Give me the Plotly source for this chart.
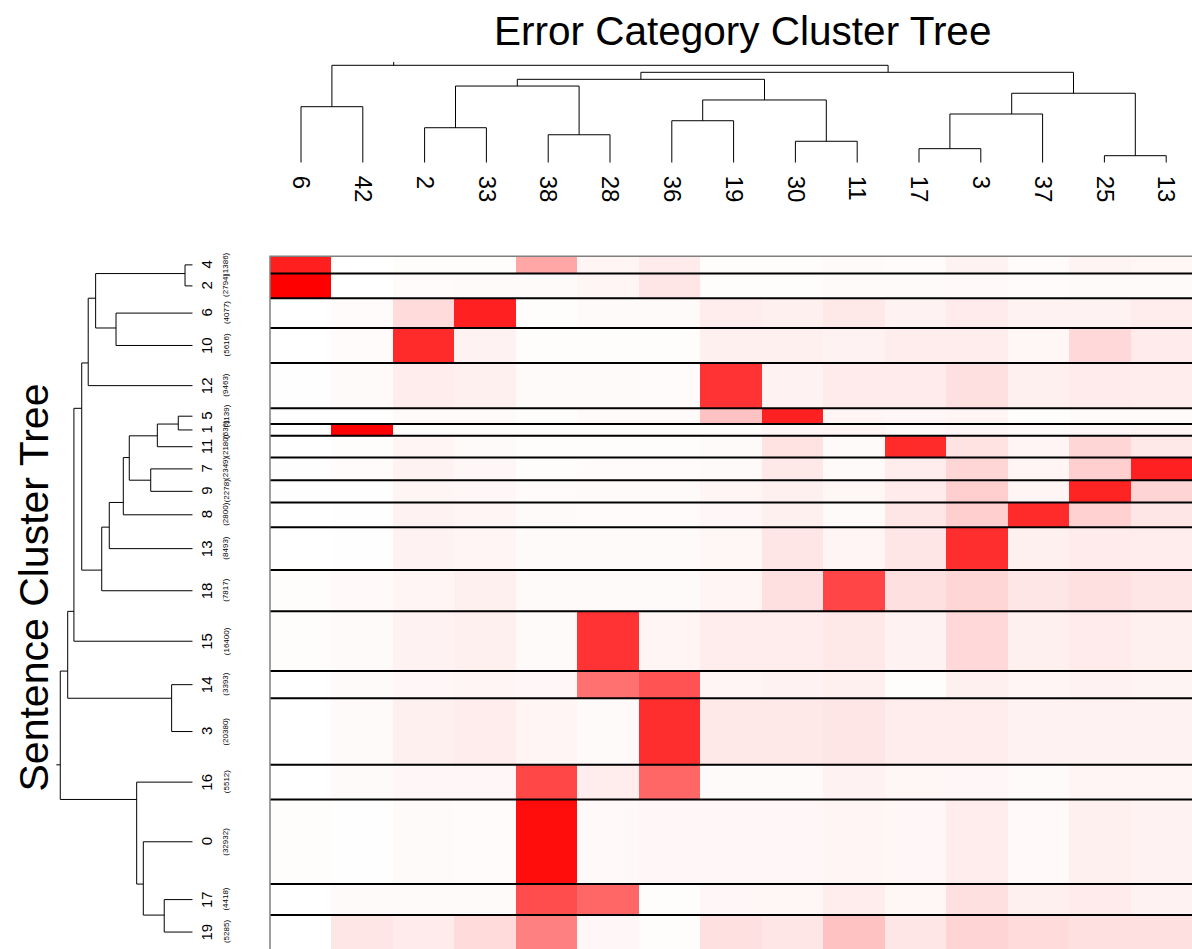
import numpy as np
import plotly.graph_objects as go

W, H = 1192, 949

# ---------------- data ----------------
# Error-category (column) cluster tree: (left, right, height); ints refer to earlier merges
col_merges = [
    ("6", "42", 0.575),   # 0
    ("2", "33", 0.359),   # 1
    ("38", "28", 0.287),  # 2
    (1, 2, 0.787),        # 3
    ("36", "19", 0.431),  # 4
    ("30", "11", 0.220),  # 5
    (4, 5, 0.644),        # 6
    (3, 6, 0.856),        # 7
    ("17", "3", 0.144),   # 8
    (8, "37", 0.500),     # 9
    ("25", "13", 0.072),  # 10
    (9, 10, 0.713),       # 11
    (7, 11, 0.928),       # 12
    (0, 12, 1.000),       # 13
]

# Sentence (row) cluster tree
row_merges = [
    ("4", "2", 0.058),    # 0
    ("6", "10", 0.579),   # 1
    (0, 1, 0.733),        # 2
    (2, "12", 0.789),     # 3
    ("5", "1", 0.109),    # 4
    (4, "11", 0.267),     # 5
    ("7", "9", 0.317),    # 6
    (5, 6, 0.479),        # 7
    (7, "8", 0.524),      # 8
    (8, "13", 0.630),     # 9
    (9, "18", 0.687),     # 10
    (3, 10, 0.838),       # 11
    (11, "15", 0.897),    # 12
    ("14", "3", 0.159),   # 13
    (12, 13, 0.944),      # 14
    ("17", "19", 0.215),  # 15
    ("0", 15, 0.373),     # 16
    ("16", 16, 0.423),    # 17
    (14, 17, 1.000),      # 18
]

# sentences per cluster
row_counts = {
    "4": 1386, "2": 2794, "6": 4077, "10": 5616, "12": 9463, "5": 1139, "1": 636,
    "11": 2180, "7": 2349, "9": 2278, "8": 2800, "13": 8493, "18": 7817, "15": 16400,
    "14": 3393, "3": 20380, "16": 5512, "0": 32932, "17": 4418, "19": 5285,
}

col_labels = ["6", "42", "2", "33", "38", "28", "36", "19", "30", "11", "17", "3", "37", "25", "13"]
row_labels = ["4", "2", "6", "10", "12", "5", "1", "11", "7", "9", "8", "13", "18", "15",
              "14", "3", "16", "0", "17", "19"]

# relative error-category intensity per sentence cluster (rows) x error category (cols)
heat_values = [
    [0.88, 0.00, 0.01, 0.01, 0.35, 0.04, 0.08, 0.01, 0.01, 0.02, 0.015, 0.05, 0.015, 0.045, 0.035],
    [1.00, 0.00, 0.015, 0.02, 0.02, 0.04, 0.10, 0.01, 0.01, 0.02, 0.02, 0.025, 0.015, 0.02, 0.02],
    [0.00, 0.015, 0.14, 0.87, 0.01, 0.02, 0.02, 0.07, 0.06, 0.09, 0.05, 0.08, 0.05, 0.05, 0.07],
    [0.00, 0.015, 0.83, 0.05, 0.01, 0.01, 0.01, 0.06, 0.06, 0.05, 0.07, 0.07, 0.035, 0.15, 0.08],
    [0.005, 0.02, 0.07, 0.06, 0.02, 0.02, 0.015, 0.80, 0.05, 0.08, 0.08, 0.12, 0.06, 0.08, 0.07],
    [0.005, 0.005, 0.02, 0.02, 0.01, 0.02, 0.02, 0.24, 0.87, 0.04, 0.03, 0.04, 0.01, 0.02, 0.02],
    [0.005, 1.00, 0.01, 0.01, 0.01, 0.01, 0.01, 0.01, 0.03, 0.04, 0.02, 0.03, 0.02, 0.03, 0.04],
    [0.00, 0.01, 0.04, 0.02, 0.01, 0.01, 0.01, 0.02, 0.11, 0.02, 0.83, 0.11, 0.04, 0.16, 0.09],
    [0.005, 0.015, 0.05, 0.03, 0.01, 0.015, 0.015, 0.02, 0.09, 0.02, 0.07, 0.16, 0.04, 0.19, 0.87],
    [0.005, 0.005, 0.04, 0.03, 0.015, 0.02, 0.02, 0.04, 0.06, 0.035, 0.08, 0.19, 0.04, 0.86, 0.17],
    [0.00, 0.005, 0.05, 0.04, 0.02, 0.015, 0.015, 0.03, 0.06, 0.02, 0.10, 0.19, 0.83, 0.18, 0.10],
    [0.00, 0.005, 0.05, 0.04, 0.02, 0.02, 0.02, 0.035, 0.10, 0.04, 0.10, 0.82, 0.06, 0.08, 0.07],
    [0.01, 0.025, 0.04, 0.06, 0.02, 0.02, 0.02, 0.04, 0.12, 0.73, 0.12, 0.16, 0.10, 0.12, 0.10],
    [0.01, 0.02, 0.05, 0.06, 0.02, 0.80, 0.04, 0.07, 0.07, 0.09, 0.05, 0.15, 0.06, 0.08, 0.06],
    [0.00, 0.02, 0.03, 0.04, 0.03, 0.56, 0.68, 0.04, 0.05, 0.06, 0.01, 0.06, 0.04, 0.05, 0.045],
    [0.00, 0.02, 0.06, 0.07, 0.04, 0.02, 0.82, 0.09, 0.09, 0.10, 0.07, 0.07, 0.05, 0.05, 0.05],
    [0.00, 0.02, 0.03, 0.03, 0.72, 0.07, 0.60, 0.02, 0.02, 0.05, 0.035, 0.03, 0.02, 0.04, 0.04],
    [0.01, 0.005, 0.02, 0.015, 0.95, 0.025, 0.03, 0.03, 0.03, 0.04, 0.03, 0.07, 0.025, 0.06, 0.05],
    [0.00, 0.02, 0.02, 0.02, 0.70, 0.60, 0.01, 0.03, 0.035, 0.07, 0.035, 0.12, 0.06, 0.08, 0.05],
    [0.00, 0.10, 0.08, 0.14, 0.50, 0.03, 0.01, 0.12, 0.10, 0.24, 0.10, 0.17, 0.14, 0.12, 0.12],
]

TITLE_TOP = "Error Category Cluster Tree"
TITLE_LEFT = "Sentence Cluster Tree"


# ---------------- dendrogram geometry ----------------
def dendrogram(merges):
    root = len(merges) - 1

    def order(node):
        if isinstance(node, str):
            return [node]
        l, r, _ = merges[node]
        return order(l) + order(r)

    leaves = order(root)
    pos = {lab: i + 1 for i, lab in enumerate(leaves)}
    segs = []

    def walk(node):
        if isinstance(node, str):
            return pos[node], 0.0, pos[node]
        l, r, h = merges[node]
        al, hl, last_l = walk(l)
        ar, hr, last_r = walk(r)
        segs.append([(al, hl), (al, h), (ar, h), (ar, hr)])
        return last_l + 0.5, h, last_r

    ra, rh, _ = walk(root)
    segs.append([(ra, rh), (ra, rh * 1.035)])
    return leaves, segs


col_leaves, col_segs = dendrogram(col_merges)
row_leaves, row_segs = dendrogram(row_merges)

# row heights proportional to sqrt(cluster size)
sizes = np.sqrt([row_counts[r] for r in row_labels])
edges = np.concatenate([[0.0], np.cumsum(sizes)])
centers = (edges[:-1] + edges[1:]) / 2
total = edges[-1]


def row_pos_to_y(p):
    return np.interp(p, np.arange(0.5, len(row_labels) + 1.0), edges)


fig = go.Figure()

FONT = "Liberation Sans, Arial, Helvetica"

# heatmap
col_edges = np.arange(len(col_labels) + 1) - 0.5
fig.add_trace(go.Heatmap(
    z=heat_values, x=col_edges, y=edges,
    colorscale=[[0, "#FFFFFF"], [1, "#FF0000"]], zmin=0, zmax=1,
    showscale=False, hoverinfo="skip", xaxis="x", yaxis="y",
))

# row separators
sx, sy = [], []
for e in edges[1:-1]:
    sx += [col_edges[0], col_edges[-1], None]
    sy += [e, e, None]
fig.add_trace(go.Scatter(x=sx, y=sy, mode="lines", line=dict(color="black", width=2),
                         hoverinfo="skip", xaxis="x", yaxis="y"))
# top / left frame
fig.add_trace(go.Scatter(x=[col_edges[-1], col_edges[0], col_edges[0]],
                         y=[edges[0], edges[0], edges[-1]],
                         mode="lines", line=dict(color="#808080", width=1.5),
                         hoverinfo="skip", xaxis="x", yaxis="y"))

# column dendrogram (top)
tx, ty = [], []
for s in col_segs:
    for (p, h) in s:
        tx.append(p - 1)
        ty.append(h)
    tx.append(None); ty.append(None)
fig.add_trace(go.Scatter(x=tx, y=ty, mode="lines", line=dict(color="black", width=1),
                         hoverinfo="skip", xaxis="x3", yaxis="y3"))

# row dendrogram (left)
lx, ly = [], []
for s in row_segs:
    for (p, h) in s:
        lx.append(h)
        ly.append(float(row_pos_to_y(p)))
    lx.append(None); ly.append(None)
fig.add_trace(go.Scatter(x=lx, y=ly, mode="lines", line=dict(color="black", width=1),
                         hoverinfo="skip", xaxis="x2", yaxis="y"))

# ---------------- layout ----------------
px_per_unit = 694.0 / total
y_top_pad = 1.2 / px_per_unit
hm_left = 269.0 / W
x_left_pad = 1.0 / (922.0 / 15)

annotations = []
for lab, c in zip(row_labels, centers):
    annotations.append(dict(x=206.5 / W, y=c, xref="paper", yref="y", text=lab,
                            textangle=-90, showarrow=False, xanchor="center", yanchor="middle",
                            font=dict(size=15, color="black", family=FONT)))
    annotations.append(dict(x=226.0 / W, y=c, xref="paper", yref="y", text="(%d)" % row_counts[lab],
                            textangle=-90, showarrow=False, xanchor="center", yanchor="middle",
                            font=dict(size=8, color="black", family=FONT)))
annotations.append(dict(x=742.0 / W, y=1 - 31.0 / H, xref="paper", yref="paper", text=TITLE_TOP,
                        showarrow=False, xanchor="center", yanchor="middle",
                        font=dict(size=40.5, color="black", family=FONT)))
annotations.append(dict(x=33.0 / W, y=1 - 587.5 / H, xref="paper", yref="paper", text=TITLE_LEFT,
                        textangle=-90, showarrow=False, xanchor="center", yanchor="middle",
                        font=dict(size=41, color="black", family=FONT)))

hidden = dict(showgrid=False, zeroline=False, showticklabels=False, ticks="", showline=False)

# top tree leaves sit at 301 px + 61.8 px per leaf
top_step = 61.8
x3_range = [(270.0 - 301.0) / top_step, (1192.0 - 301.0) / top_step]

fig.update_layout(
    width=W, height=H, margin=dict(l=0, r=0, t=0, b=0),
    paper_bgcolor="white", plot_bgcolor="white", showlegend=False,
    xaxis=dict(domain=[hm_left, 1.0], range=[col_edges[0] - x_left_pad, col_edges[-1]], anchor="y", **hidden),
    yaxis=dict(domain=[0.0, 1 - 255.0 / H], range=[total, -y_top_pad], anchor="x", **hidden),
    xaxis2=dict(domain=[56.3 / W, 192.7 / W], range=[1.03, 0], anchor="y", **hidden),
    xaxis3=dict(domain=[270.0 / W, 1.0], range=x3_range, anchor="y3",
                showgrid=False, zeroline=False, showline=False, ticks="",
                tickmode="array", tickvals=list(range(len(col_leaves))), ticktext=col_leaves,
                tickangle=90, ticklabelstandoff=12,
                tickfont=dict(size=24, color="black", family=FONT)),
    yaxis3=dict(domain=[1 - 162.7 / H, 1 - 61.4 / H], range=[0, 1.04], anchor="x3", **hidden),
    annotations=annotations,
)

fig.write_html("out.html")
